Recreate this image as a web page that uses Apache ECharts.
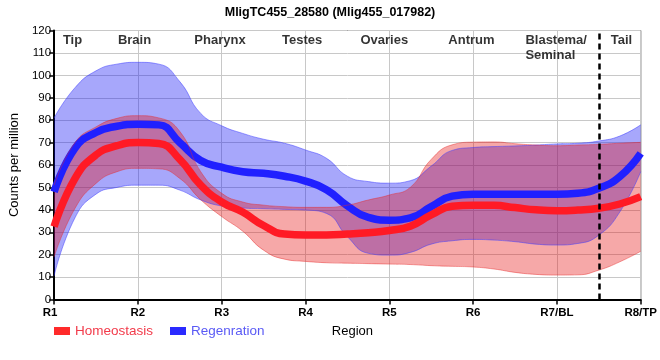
<!DOCTYPE html>
<html>
<head>
<meta charset="utf-8">
<script src="https://cdn.jsdelivr.net/npm/echarts@6/dist/echarts.min.js"></script>
<style>
html,body{margin:0;padding:0;background:#fff;}
#chart{width:660px;height:360px;}
</style>
</head>
<body>
<div id="chart"></div>
<script>
// ---- data ----
var xLabels = ['R1','R2','R3','R4','R5','R6','R7/BL','R8/TP'];
var positions = [1,1.25,1.5,1.75,2,2.25,2.5,2.75,3,3.25,3.5,3.75,4,4.25,4.5,4.75,5,5.25,5.5,5.75,6,6.25,6.5,6.75,7,7.25,7.5,7.75,8];

var homeoMean  = [32.5,54,64.5,68.6,70,69.6,62.5,51,43.5,39,33,29.2,28.8,28.8,29.2,29.8,30.8,32.7,37.7,41.6,42.1,42,41,40,39.6,39.9,40.7,42.6,45.9];
var homeoUpper = [51,70,77,80.8,82,81,75,57,47.4,43.5,42.1,41.4,41.1,41.1,42.1,44.4,46.6,50,62.5,69,70.2,70.3,69.5,68.9,68.6,68.9,69.2,69.7,70.1];
var homeoLower = [19,40.7,51.8,57,58.5,58.3,54,44.5,37,30.5,22,18,17,16.4,16.2,16,15.8,15.6,15.1,14.8,14.5,13.6,12.1,11.2,10.9,11,13.1,16.8,21.5];

var regenMean  = [48,67.5,74.5,77.3,78.2,77.9,70,62,59,57,56.3,55,52.8,49,41.8,36.6,35.4,36.4,41.4,46.1,47,47,47,47,47,47.4,49.6,54.8,65.2];
var regenUpper = [81,94.5,102,105,105.8,105,97.2,83,77.5,74.1,71.5,69.7,66.7,63,55,52.6,51.9,53,59.5,66.5,67.8,68.2,68.5,68.9,69.4,69.7,70.7,72.9,77.9];
var regenLower = [10.5,36.5,47,50,51,51,48.8,44.4,41.7,40.8,40.5,40.2,39.9,38.4,28,20.6,19.8,21,24.7,26.2,26.8,26.5,25.8,24.7,24.3,25,28.7,39,57];

var regionNames = ['Tip','Brain','Pharynx','Testes','Ovaries','Antrum','Blastema/\nSeminal','Tail'];
var regionPos   = [1.22,1.96,2.98,3.96,4.94,5.98,7.0,7.77];
var dividerPos  = 7.5;

// ---- build ----
function diff(up, lo){ return up.map(function(u,i){ return +(u - lo[i]).toFixed(2); }); }
var STEP = 4; // category points per region

var FONT = 'Liberation Sans, Arial, sans-serif';
var SM = 0.5;

var chart = echarts.init(document.getElementById('chart'), null, {renderer:'canvas'});
var option = {
  animation: false,
  backgroundColor: '#fff',
  textStyle: {fontFamily: FONT},
  title: {
    text: 'MligTC455_28580 (Mlig455_017982)',
    left: 'center', top: 1,
    textStyle: {fontFamily: FONT, fontSize: 12.5, fontWeight: 'bold', color: '#000'}
  },
  legend: {
    left: 49, top: 319,
    icon: 'rect', itemWidth: 16, itemHeight: 8, itemGap: 17,
    textStyle: {fontFamily: FONT, fontSize: 13.5},
    data: [
      {name: 'Homeostasis', textStyle: {color: '#f23a4a'}},
      {name: 'Regenration', textStyle: {color: '#5a5af5'}}
    ]
  },
  grid: {left: 50, right: 10, top: 30.5, bottom: 60.5, show: true, borderColor: '#000', borderWidth: 1, backgroundColor: 'transparent'},
  xAxis: [{
    type: 'category', boundaryGap: false,
    data: positions.map(String),
    name: 'Region', nameLocation: 'middle', nameGap: 25,
    nameTextStyle: {fontFamily: FONT, fontSize: 13, color: '#000', padding: [0, 0, 0, 10]},
    axisLine: {show: true, onZero: false, lineStyle: {color: '#000', width: 2}},
    axisTick: {show: true, length: 5, interval: STEP - 1, lineStyle: {color: '#000', width: 1.5}},
    axisLabel: {
      fontFamily: FONT, fontSize: 11.5, fontWeight: 'bold', color: '#000', margin: 7,
      interval: STEP - 1, alignMinLabel: 'center', alignMaxLabel: 'center',
      formatter: function(v, idx){
        var t = xLabels[Math.round(idx / STEP)] || '';
        return idx === 0 ? '{first|' + t + '}' : t;
      },
      rich: {
        first: {fontFamily: FONT, fontSize: 11.5, fontWeight: 'bold', color: '#000', padding: [0, 8, 0, 0]}
      }
    },
    splitLine: {show: true, interval: STEP - 1, lineStyle: {color: '#c8c8c8', width: 1}}
  }, {
    type: 'value', min: 1, max: 8, show: false
  }],
  yAxis: {
    type: 'value', min: 0, max: 120, interval: 10,
    name: 'Counts per million', nameLocation: 'middle', nameGap: 30,
    nameTextStyle: {fontFamily: FONT, fontSize: 13, color: '#000'},
    axisLine: {show: true, lineStyle: {color: '#000', width: 2}},
    axisTick: {show: true, length: 5, lineStyle: {color: '#000', width: 1.5}},
    axisLabel: {fontFamily: FONT, fontSize: 11.5, color: '#000', margin: 3},
    splitLine: {show: true, lineStyle: {color: '#c8c8c8', width: 1}}
  },
  series: [
    {
      name: 'regenLow', type: 'line', stack: 'regen', smooth: SM,
      symbol: 'none', data: regenLower,
      lineStyle: {color: 'rgba(60,60,255,0.5)', width: 1}, silent: true
    },
    {
      name: 'regenBand', type: 'line', stack: 'regen', smooth: SM,
      symbol: 'none', data: diff(regenUpper, regenLower),
      lineStyle: {color: 'rgba(60,60,255,0.5)', width: 1},
      areaStyle: {color: 'rgba(10,10,245,0.36)', opacity: 1}, silent: true
    },
    {
      name: 'Regenration', type: 'line', smooth: SM,
      symbol: 'none', data: regenMean,
      itemStyle: {color: '#2a2aff'},
      lineStyle: {color: '#2020ff', width: 7.5}
    },
    {
      name: 'homeoLow', type: 'line', stack: 'homeo', smooth: SM,
      symbol: 'none', data: homeoLower,
      lineStyle: {color: 'rgba(230,40,40,0.45)', width: 1}, silent: true
    },
    {
      name: 'homeoBand', type: 'line', stack: 'homeo', smooth: SM,
      symbol: 'none', data: diff(homeoUpper, homeoLower),
      lineStyle: {color: 'rgba(230,40,40,0.45)', width: 1},
      areaStyle: {color: 'rgba(230,15,15,0.36)', opacity: 1}, silent: true
    },
    {
      name: 'Homeostasis', type: 'line', smooth: SM,
      symbol: 'none', data: homeoMean,
      itemStyle: {color: '#ff2a2a'},
      lineStyle: {color: '#ff1a25', width: 7.5}
    },
    {
      name: 'regions', type: 'scatter', xAxisIndex: 1, symbolSize: 1,
      itemStyle: {color: 'transparent'}, silent: true,
      data: regionNames.map(function(n,i){
        var item = {value: [regionPos[i], 120], name: n};
        if (n.indexOf('\n') >= 0) {
          item.label = {align: 'left', offset: [-31.5, 2]};
        }
        return item;
      }),
      label: {
        show: true, position: 'inside', align: 'center', verticalAlign: 'top', offset: [0, 2],
        fontFamily: FONT, fontSize: 13, fontWeight: 'bold', color: '#000', lineHeight: 15,
        formatter: function(p){ return p.name; }
      },
      markLine: {
        silent: true, symbol: 'none',
        label: {show: false},
        lineStyle: {color: '#000', width: 2.5, type: [6,4]},
        data: [{xAxis: dividerPos}]
      }
    }
  ]
};
chart.setOption(option);
</script>
</body>
</html>
